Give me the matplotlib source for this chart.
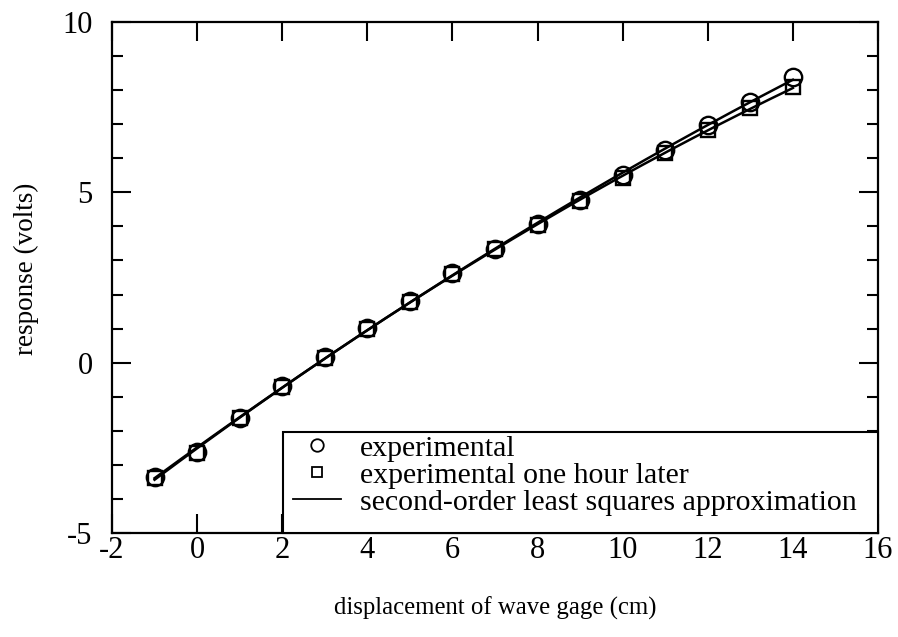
import numpy as np
import matplotlib
matplotlib.use("Agg")
import matplotlib.pyplot as plt
from matplotlib.lines import Line2D
from matplotlib.patches import Rectangle
from matplotlib.ticker import MultipleLocator

displacement = [-1, 0, 1, 2, 3, 4, 5, 6, 7, 8, 9, 10, 11, 12, 13, 14]
experimental = [-3.36, -2.62, -1.62, -0.69, 0.18, 1.03, 1.80, 2.63, 3.34, 4.06,
                4.78, 5.52, 6.24, 6.97, 7.65, 8.39]
one_hour_later = [-3.38, -2.64, -1.63, -0.70, 0.15, 1.00, 1.78, 2.60, 3.33, 4.03,
                  4.75, 5.42, 6.15, 6.83, 7.47, 8.09]
x_ticks = [-2, 0, 2, 4, 6, 8, 10, 12, 14, 16]
y_ticks = [-5, 0, 5, 10]

plt.rcParams['font.family'] = ['Liberation Serif', 'DejaVu Serif']

fig = plt.figure(figsize=(8.98, 6.37), dpi=100)
ax = fig.add_axes([112 / 898, 1 - 533 / 637, 766 / 898, 511 / 637])

x = np.array(displacement, dtype=float)
xf = np.linspace(x.min(), x.max(), 200)
for ys in (experimental, one_hour_later):
    c = np.polyfit(x, np.array(ys), 2)
    ax.plot(xf, np.polyval(c, xf), color='black', lw=1.8, zorder=2)

ax.plot(displacement, one_hour_later, linestyle='none', marker='s', ms=10,
        mfc='none', mec='black', mew=1.7, zorder=3)
ax.plot(displacement, experimental, linestyle='none', marker='o', ms=12.5,
        mfc='none', mec='black', mew=1.7, zorder=3)

ax.set_xlim(-2, 16)
ax.set_ylim(-5, 10)
ax.set_xticks(x_ticks)
ax.set_yticks(y_ticks)
ax.set_xticklabels([str(t) for t in x_ticks])
ax.set_yticklabels([str(t) for t in y_ticks])
ax.yaxis.set_minor_locator(MultipleLocator(1))
ax.tick_params(which='both', direction='in', top=True, right=True, width=1.5,
               labelsize=22, colors='black')
ax.tick_params(which='major', length=14)
ax.tick_params(which='minor', length=8)
ax.tick_params(axis='x', pad=2)
ax.tick_params(axis='y', pad=14)
for s in ax.spines.values():
    s.set_linewidth(1.6)

ax.set_xlabel('displacement of wave gage (cm)', fontsize=17.8, labelpad=23)
ax.set_ylabel('response (volts)', fontsize=19.5)
ax.yaxis.set_label_coords((39 - 112) / 766, (533 - 269) / 511)

# legend frame spanning to the axes corner
ax.add_patch(Rectangle((171 / 766, 0), 595 / 766, 101 / 511, transform=ax.transAxes,
                       facecolor='white', edgecolor='black', lw=1.5, zorder=4,
                       clip_on=False))

handles = [
    Line2D([], [], linestyle='none', marker='o', ms=9, mfc='none', mec='black', mew=1.3),
    Line2D([], [], linestyle='none', marker='s', ms=7, mfc='none', mec='black', mew=1.3),
    Line2D([], [], color='black', lw=1.3),
]
labels = ['experimental', 'experimental one hour later',
          'second-order least squares approximation']
leg = ax.legend(handles, labels, loc='upper left',
                bbox_to_anchor=((293 - 112) / 766, (533 - 435) / 511),
                borderaxespad=0, borderpad=0, fontsize=21.5, frameon=False,
                handlelength=1.6, handletextpad=0.65, labelspacing=0.0)
leg.set_zorder(5)

fig.savefig('out.png', dpi=100)
